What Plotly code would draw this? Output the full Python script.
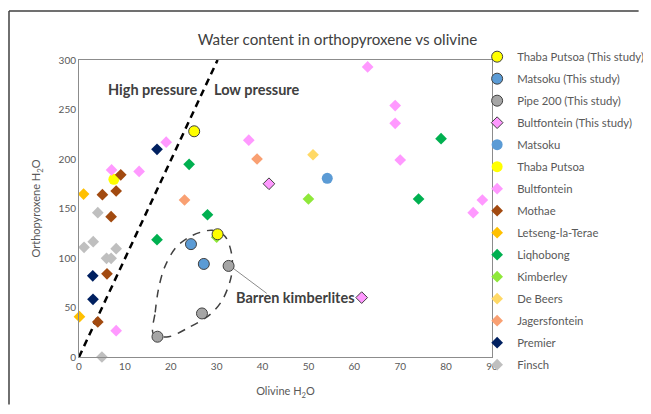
import plotly.graph_objects as go

# ---------------- data (Olivine H2O, Orthopyroxene H2O) ----------------
THABA_STUDY_X = [25.1, 30.2]
THABA_STUDY_Y = [228, 124]
MATSOKU_STUDY_X = [24.4, 27.2]
MATSOKU_STUDY_Y = [114, 94]
PIPE200_X = [32.6, 26.8, 17.1]
PIPE200_Y = [92, 44, 20.5]
BULT_STUDY_X = [41.4, 61.6]
BULT_STUDY_Y = [175, 60]

MATSOKU_X = [54.1]
MATSOKU_Y = [180.5]
THABA_X = [7.6]
THABA_Y = [179.5]
BULT_X = [19.0, 7.1, 13.1, 37.0, 8.1, 62.9, 68.9, 68.9, 70.0, 87.9, 85.9]
BULT_Y = [217, 189, 187.5, 219, 26.6, 293, 254, 236, 199, 158.6, 145.8]
MOTHAE_X = [9.1, 5.1, 8.1, 7.0, 6.1, 4.1]
MOTHAE_Y = [184, 164, 167.7, 141.7, 84, 35.4]
LETSENG_X = [1.0, 0.1]
LETSENG_Y = [164.6, 40.7]
LIQHOBONG_X = [24.0, 28.0, 17.0, 78.9, 74.0]
LIQHOBONG_Y = [194.6, 143.7, 118.5, 220.5, 159.6]
KIMBERLEY_X = [50.0, 30.0]
KIMBERLEY_Y = [159.6, 121]
DEBEERS_X = [51.0]
DEBEERS_Y = [204.3]
JAGERS_X = [38.8, 23.0]
JAGERS_Y = [200, 158.6]
PREMIER_X = [17.0, 3.0, 3.05]
PREMIER_Y = [209.8, 82, 58.3]
FINSCH_X = [4.1, 1.1, 3.1, 6.0, 7.0, 8.1, 5.0]
FINSCH_Y = [145.8, 110.8, 116.5, 99.7, 99.7, 109.4, 0]

# pressure boundary line and barren-kimberlite envelope
BOUNDARY_X = [0, 30.2]
BOUNDARY_Y = [0, 300]
ENVELOPE_X = [16.2, 16.6, 17.3, 18.6, 21.2, 24.8, 29.0, 31.8, 33.3, 33.2, 31.3, 28.6, 24.0, 19.5, 16.2]
ENVELOPE_Y = [23.5, 45, 68, 90, 111, 123, 128, 122, 103, 82, 58, 43, 30, 20.5, 23.5]
LEADER_X = [33.6, 40.9]
LEADER_Y = [89.6, 64.3]

X_TICKS = [0, 10, 20, 30, 40, 50, 60, 70, 80, 90]
Y_TICKS = [0, 50, 100, 150, 200, 250, 300]

FONT = "Lato, 'Open Sans', sans-serif"
TXT = "#595959"

fig = go.Figure()

# helper lines (below markers)
fig.add_trace(go.Scatter(x=BOUNDARY_X, y=BOUNDARY_Y, mode="lines", showlegend=False, hoverinfo="skip",
                         line=dict(color="black", width=2.5, dash="7px,5px")))
fig.add_trace(go.Scatter(x=ENVELOPE_X, y=ENVELOPE_Y, mode="lines", showlegend=False, hoverinfo="skip",
                         line=dict(color="#404040", width=1.5, dash="8px,7px", shape="spline", smoothing=0.9)))
fig.add_trace(go.Scatter(x=LEADER_X, y=LEADER_Y, mode="lines", showlegend=False, hoverinfo="skip",
                         line=dict(color="#8C8C8C", width=1)))

D = 9   # diamond size
C = 11  # circle size

series = [
    # name, x, y, symbol, color, outline, size, rank
    ("Matsoku", MATSOKU_X, MATSOKU_Y, "circle", "#5B9BD5", None, C, 5),
    ("Thaba Putsoa", THABA_X, THABA_Y, "circle", "#FFFF00", None, C, 6),
    ("Bultfontein", BULT_X, BULT_Y, "diamond", "#FF99FF", None, D, 7),
    ("Mothae", MOTHAE_X, MOTHAE_Y, "diamond", "#A24A10", None, D, 8),
    ("Letseng-la-Terae", LETSENG_X, LETSENG_Y, "diamond", "#FFC000", None, D, 9),
    ("Liqhobong", LIQHOBONG_X, LIQHOBONG_Y, "diamond", "#00B050", None, D, 10),
    ("Kimberley", KIMBERLEY_X, KIMBERLEY_Y, "diamond", "#8FE83A", None, D, 11),
    ("De Beers", DEBEERS_X, DEBEERS_Y, "diamond", "#FFD966", None, D, 12),
    ("Jagersfontein", JAGERS_X, JAGERS_Y, "diamond", "#F9A072", None, D, 13),
    ("Premier", PREMIER_X, PREMIER_Y, "diamond", "#002060", None, D, 14),
    ("Finsch", FINSCH_X, FINSCH_Y, "diamond", "#BFBFBF", None, D, 15),
    ("Thaba Putsoa (This study)", THABA_STUDY_X, THABA_STUDY_Y, "circle", "#FFFF00", "#404040", C, 1),
    ("Matsoku (This study)", MATSOKU_STUDY_X, MATSOKU_STUDY_Y, "circle", "#5B9BD5", "#404040", C, 2),
    ("Pipe 200 (This study)", PIPE200_X, PIPE200_Y, "circle", "#A5A5A5", "#404040", C, 3),
    ("Bultfontein (This study)", BULT_STUDY_X, BULT_STUDY_Y, "diamond", "#FF99FF", "#404040", D, 4),
]

for name, xs, ys, sym, col, outline, size, rank in series:
    fig.add_trace(go.Scatter(
        x=xs, y=ys, mode="markers", name=name, legendrank=rank, legendgroup=name, cliponaxis=False,
        marker=dict(symbol=sym, color=col, size=size,
                    line=dict(color=outline if outline else col, width=1 if outline else 0)),
    ))

ann_font = dict(family=FONT, size=14.5, color="#404040")
fig.add_annotation(x=5.9, y=270, xref="x", yref="y", text="<b>High pressure</b>", showarrow=False,
                   xanchor="left", yanchor="middle", font=ann_font)
fig.add_annotation(x=28.9, y=270, xref="x", yref="y", text="<b>Low pressure</b>", showarrow=False,
                   xanchor="left", yanchor="middle", font=ann_font)
fig.add_annotation(x=33.8, y=60.3, xref="x", yref="y", text="<b>Barren kimberlites</b>", showarrow=False,
                   xanchor="left", yanchor="middle", font=ann_font)

# outer chart frame (only top and left edges visible in the crop)
FRAME_L, FRAME_T = -0.1695, 1.165
fig.add_shape(type="line", xref="paper", yref="paper", x0=FRAME_L, x1=1.355, y0=FRAME_T, y1=FRAME_T,
              line=dict(color="#404040", width=1.5), layer="above")
fig.add_shape(type="line", xref="paper", yref="paper", x0=FRAME_L, x1=FRAME_L, y0=-0.16, y1=FRAME_T,
              line=dict(color="#404040", width=1.5), layer="above")

axis_common = dict(showgrid=False, zeroline=False, showline=True, linecolor="#8C8C8C", linewidth=1,
                   mirror=True, ticks="", tickfont=dict(family=FONT, size=10, color=TXT))

W, H = 635, 398  # 8px page body margin on every side fills the 651x414 window

fig.update_layout(
    width=W, height=H,
    margin=dict(l=71, r=W - 71 - 413, t=52, b=H - 52 - 297, autoexpand=False),
    paper_bgcolor="white", plot_bgcolor="white",
    title=dict(text="Water content in orthopyroxene vs olivine", x=329.5 / W, xref="container",
               xanchor="center", y=1 - 32 / H, yref="container", yanchor="middle",
               font=dict(family=FONT, size=15.2, color="#404040")),
    xaxis=dict(range=[0, 90], tickvals=X_TICKS, title=dict(text="Olivine H<sub>2</sub>O", standoff=16,
               font=dict(family=FONT, size=11, color=TXT)), **axis_common),
    yaxis=dict(range=[0, 300], tickvals=Y_TICKS, title=dict(text="Orthopyroxene H<sub>2</sub>O", standoff=15,
               font=dict(family=FONT, size=11, color=TXT)), **axis_common),
    legend=dict(x=0.964, xanchor="left", y=1.060, yanchor="top", traceorder="grouped", tracegroupgap=3,
                maxheight=400, font=dict(family=FONT, size=11.3, color=TXT), bgcolor="rgba(0,0,0,0)"),
    showlegend=True,
)

fig.write_html("out.html")
